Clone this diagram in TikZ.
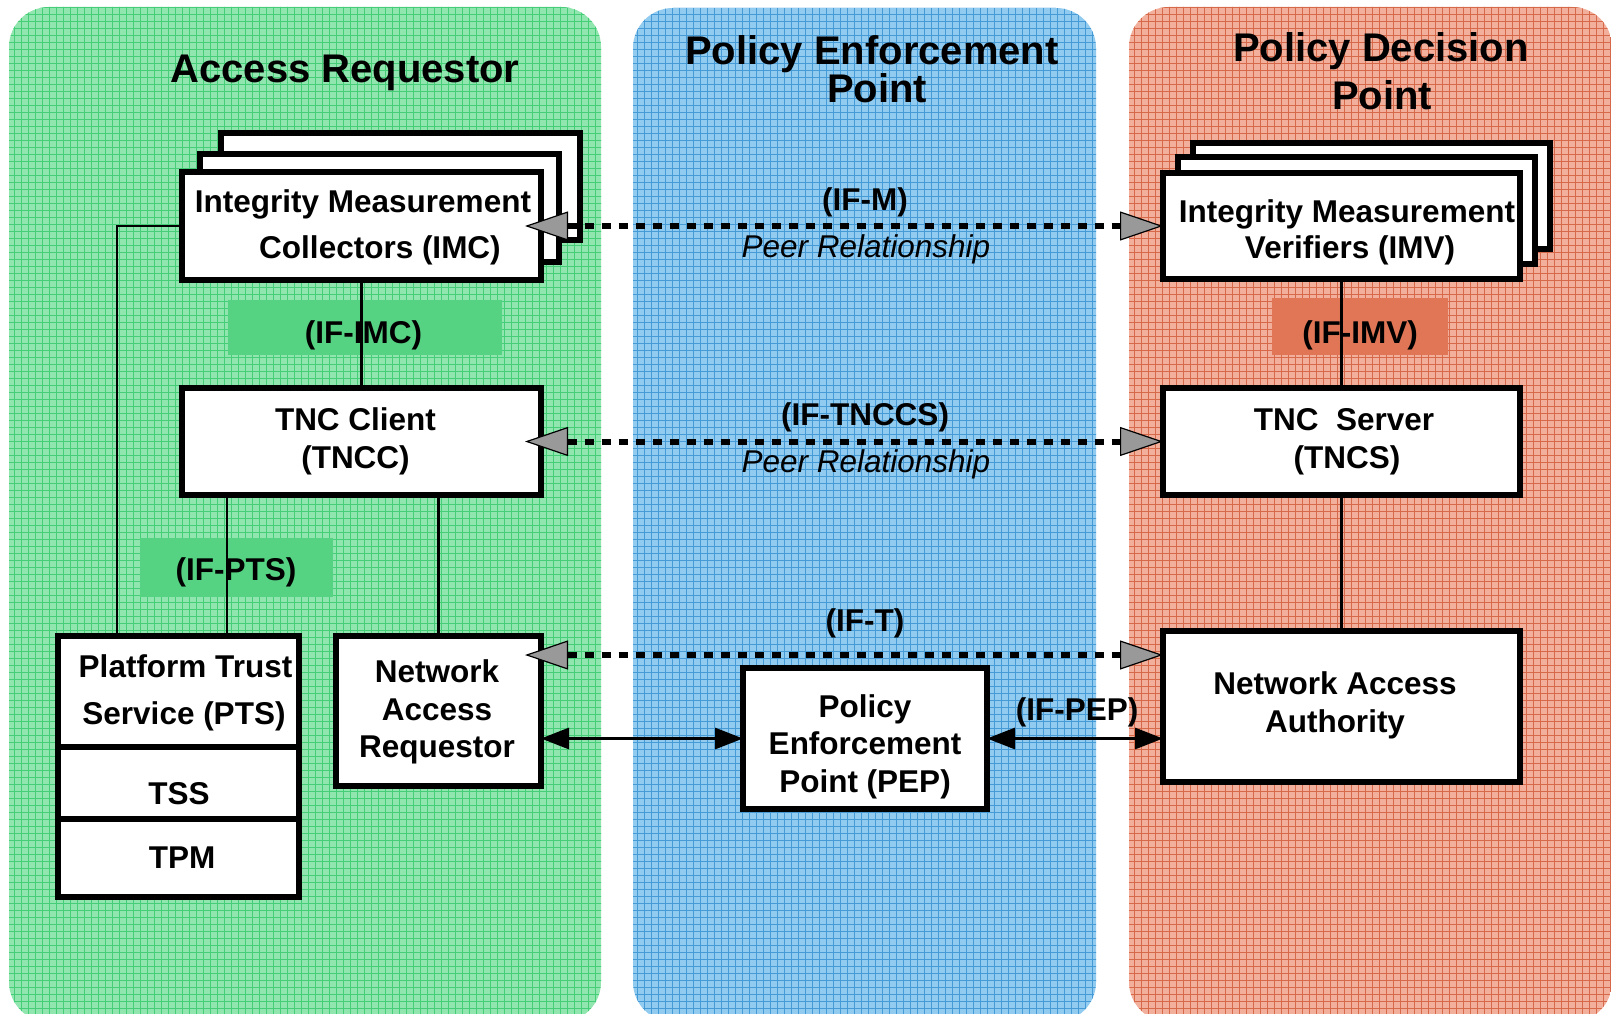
\documentclass[tikz,border=0pt]{standalone}
\usepackage{fontspec}
\setmainfont{Liberation Sans}
\usetikzlibrary{arrows.meta,calc}
\definecolor{grbase}{RGB}{145,230,175}
\definecolor{grgrid}{RGB}{70,205,120}
\definecolor{blbase}{RGB}{145,203,240}
\definecolor{blgrid}{RGB}{70,155,215}
\definecolor{orbase}{RGB}{242,175,155}
\definecolor{orgrid}{RGB}{215,105,75}
\definecolor{hlgreen}{RGB}{85,210,130}
\definecolor{hlorange}{RGB}{224,118,85}
\definecolor{tipgray}{RGB}{153,153,153}
\tikzset{
  box/.style={draw, line width=5.5pt, fill=white, inner sep=0pt, outer sep=0pt},
  hlbox/.style={fill=#1, inner sep=0pt, outer sep=0pt},
  txt/.style={font=\fontsize{31.5}{36}\selectfont\bfseries, inner sep=0pt, anchor=base},
  ttl/.style={font=\fontsize{40}{36}\selectfont\bfseries, inner sep=0pt, anchor=base},
  prl/.style={font=\fontsize{31.5}{36}\selectfont\itshape, inner sep=0pt, anchor=base},
  link/.style={line width=2.5pt},
  peer/.style={line width=6pt, dash pattern=on 9pt off 8pt,
    {Triangle[length=43pt,width=29pt,fill=tipgray,line width=1.2pt]}-{Triangle[length=43pt,width=29pt,fill=tipgray,line width=1.2pt]}},
  dbl/.style={line width=3pt, {Triangle[length=28pt,width=21pt]}-{Triangle[length=28pt,width=21pt]}},
  gridlines/.style={draw=#1, line width=0.55pt, step=7pt},
}
\begin{document}
\begin{tikzpicture}[x=1pt,y=-1pt]
\useasboundingbox (0,0) rectangle (1611,1014);
\fill[white] (0,0) rectangle (1611,1014);
\begin{scope}
  \clip (0,0) rectangle (1611,1014);
  % green panel
  \begin{scope}
    \clip[rounded corners=40pt] (9,7) rectangle (601,1022);
    \fill[grbase] (0,0) rectangle (700,1030);
    \path[gridlines=grgrid] (0,1029) grid (700,0);
  \end{scope}
  % blue panel
  \begin{scope}
    \clip[rounded corners=40pt] (633,8) rectangle (1096,1022);
    \fill[blbase] (600,0) rectangle (1120,1030);
    \path[gridlines=blgrid] (602,1029) grid (1120,0);
  \end{scope}
  % orange panel
  \begin{scope}
    \clip[rounded corners=40pt] (1129,7) rectangle (1612,1022);
    \fill[orbase] (1100,0) rectangle (1620,1030);
    \path[gridlines=orgrid] (1099,1029) grid (1620,0);
  \end{scope}
\end{scope}

% titles
\node[ttl] (tar) at (345,83) {Access Requestor};
\node[ttl, align=center] (tpep) at (872,103) {Policy Enforcement\\\hspace*{10pt}Point};
\node[ttl] (tpdp1) at (1381,62) {Policy Decision};
\node[ttl] (tpdp2) at (1382,110) {Point};

% highlights
\node[hlbox=hlgreen, minimum width=274pt, minimum height=55pt] (hlimc) at (365,327.5) {};
\node[hlbox=hlgreen, minimum width=193pt, minimum height=59pt] (hlpts) at (236.5,567.5) {};
\node[hlbox=hlorange, minimum width=176pt, minimum height=57pt] (hlimv) at (1360,326.5) {};

% boxes
\node[box, minimum width=359pt, minimum height=107pt] (imc3) at (400.5,186.5) {};
\node[box, minimum width=359pt, minimum height=108pt] (imc2) at (379.5,208) {};
\node[box, minimum width=359pt, minimum height=108pt] (imc) at (361.5,226) {};
\node[box, minimum width=357pt, minimum height=106pt] (imv3) at (1371.5,196) {};
\node[box, minimum width=357pt, minimum height=107pt] (imv2) at (1356.5,210.5) {};
\node[box, minimum width=357pt, minimum height=106pt] (imv) at (1341.5,226) {};
\node[box, minimum width=359pt, minimum height=107pt] (tncc) at (361.5,441.5) {};
\node[box, minimum width=357pt, minimum height=107pt] (tncs) at (1341.5,441.5) {};
\node[box, minimum width=241pt, minimum height=111pt] (pts) at (178.5,691.5) {};
\node[box, minimum width=241pt, minimum height=72pt] (tss) at (178.5,783) {};
\node[box, minimum width=241pt, minimum height=78pt] (tpm) at (178.5,858) {};
\node[box, minimum width=205pt, minimum height=150pt] (nar) at (438.5,711) {};
\node[box, minimum width=244pt, minimum height=141pt] (pep) at (865,738.5) {};
\node[box, minimum width=357pt, minimum height=151pt] (naa) at (1341.5,706.5) {};

% connectors
\draw[link] (imc.west) -| ($(pts.north west)+(59,0)$);
\draw[link] (nar.north) -- (nar.north |- tncc.south);
\draw[link] (tncs.south) -- (naa.north);

% box texts
\node[txt] (x1) at (363,212) {Integrity Measurement};
\node[txt] (x2) at (380,258) {Collectors (IMC)};
\node[txt] (x3) at (1347,222) {Integrity Measurement};
\node[txt] (x4) at (1350,258) {Verifiers (IMV)};
\node[txt] (x5) at (355.5,430) {TNC Client};
\node[txt] (x6) at (355.5,468) {(TNCC)};
\node[txt] (x7) at (1344,430) {TNC~~Server};
\node[txt] (x8) at (1347,468) {(TNCS)};
\node[txt] (x9) at (185.5,677) {Platform Trust};
\node[txt] (x10) at (184,724) {Service (PTS)};
\node[txt] (x11) at (179,804) {TSS};
\node[txt] (x12) at (182,868) {TPM};
\node[txt] (x13) at (437,682) {Network};
\node[txt] (x14) at (437,720) {Access};
\node[txt] (x15) at (437,757) {Requestor};
\node[txt] (x16) at (865,717) {Policy};
\node[txt] (x17) at (865,754) {Enforcement};
\node[txt] (x18) at (865,792) {Point (PEP)};
\node[txt] (x19) at (1335,694) {Network Access};
\node[txt] (x20) at (1335,732) {Authority};

% interface labels
\node[txt] (l1) at (865,210) {(IF-M)};
\node[prl] (l2) at (866,257) {Peer Relationship};
\node[txt] (l3) at (865,425) {(IF-TNCCS)};
\node[prl] (l4) at (866,472) {Peer Relationship};
\node[txt] (l5) at (865,631) {(IF-T)};
\node[txt] (l6) at (1077,720) {(IF-PEP)};
\node[txt] (l7) at (363.5,343) {(IF-IMC)};
\node[txt] (l8) at (1360,343) {(IF-IMV)};
\node[txt] (l9) at (236,580) {(IF-PTS)};

% lines crossing the labels
\draw[link] (imc.south) -- (tncc.north);
\draw[link] (imv.south) -- (tncs.north);
\draw[link] ([xshift=-134.5pt]tncc.south) -- ([xshift=48.5pt]pts.north);

% peer arrows
\coordinate (ift) at (0,655);
\draw[peer, shorten <=-16pt] (imc.east) -- (imv.west);
\draw[peer, shorten <=-16pt] (tncc.east) -- (tncs.west);
\draw[peer, shorten <=-16pt] (nar.east |- ift) -- (naa.west |- ift);

% solid double arrows
\draw[dbl] (nar.east |- pep.west) -- (pep.west);
\draw[dbl] (pep.east) -- (naa.west |- pep.east);
\end{tikzpicture}
\end{document}
